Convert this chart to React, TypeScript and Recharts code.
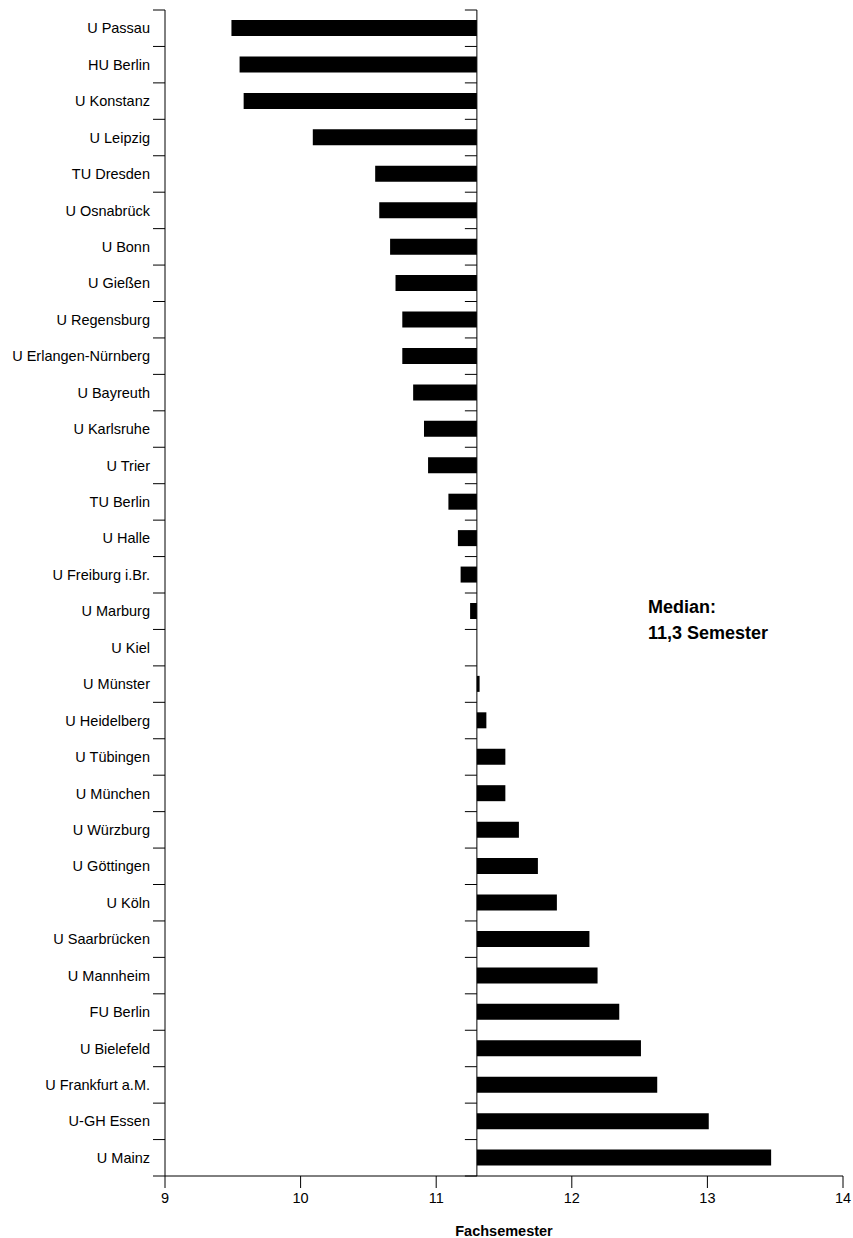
import React from "react"
import {
  BarChart,
  Bar,
  XAxis,
  YAxis,
  ReferenceLine,
} from "recharts"

// Universities, top to bottom
const UNIVERSITIES = [
  "U Passau",
  "HU Berlin",
  "U Konstanz",
  "U Leipzig",
  "TU Dresden",
  "U Osnabrück",
  "U Bonn",
  "U Gießen",
  "U Regensburg",
  "U Erlangen-Nürnberg",
  "U Bayreuth",
  "U Karlsruhe",
  "U Trier",
  "TU Berlin",
  "U Halle",
  "U Freiburg i.Br.",
  "U Marburg",
  "U Kiel",
  "U Münster",
  "U Heidelberg",
  "U Tübingen",
  "U München",
  "U Würzburg",
  "U Göttingen",
  "U Köln",
  "U Saarbrücken",
  "U Mannheim",
  "FU Berlin",
  "U Bielefeld",
  "U Frankfurt a.M.",
  "U-GH Essen",
  "U Mainz",
]

// Fachsemester per university
const SEMESTERS = [
  9.49, 9.55, 9.58, 10.09, 10.55, 10.58, 10.66, 10.7, 10.75, 10.75, 10.83,
  10.91, 10.94, 11.09, 11.16, 11.18, 11.25, 11.3, 11.32, 11.37, 11.51, 11.51,
  11.61, 11.75, 11.89, 12.13, 12.19, 12.35, 12.51, 12.63, 13.01, 13.47,
]

const X_TICKS = [9, 10, 11, 12, 13, 14]
const MEDIAN = 11.3
const MEDIAN_LABEL = ["Median:", "11,3 Semester"]
const AXIS_TITLE = "Fachsemester"

const FONT = "'Liberation Sans', Arial, Helvetica, sans-serif"

const data = UNIVERSITIES.map((name, i) => {
  const v = SEMESTERS[i]
  return { name, value: v, range: [Math.min(MEDIAN, v), Math.max(MEDIAN, v)] }
})

// vertical line with small ticks on the row boundaries
function BoundaryLine(props: any) {
  const { x1, y1, y2 } = props
  const top = Math.min(y1, y2)
  const bottom = Math.max(y1, y2)
  const step = (bottom - top) / UNIVERSITIES.length
  const ticks = []
  for (let i = 0; i <= UNIVERSITIES.length; i++) {
    const y = top + i * step
    ticks.push(<line key={i} x1={x1 - 12} x2={x1} y1={y} y2={y} stroke="#000" strokeWidth={1} />)
  }
  return (
    <g>
      <line x1={x1} x2={x1} y1={top} y2={bottom} stroke="#000" strokeWidth={1} />
      {ticks}
    </g>
  )
}

export default function App() {
  return (
    <div
      style={{
        position: "absolute",
        left: 0,
        top: 0,
        width: 853,
        height: 1238,
        fontFamily: FONT,
        background: "#fff",
      }}
    >
      <BarChart
        width={853}
        height={1238}
        data={data}
        layout="vertical"
        margin={{ top: 10, right: 10, left: 0, bottom: 0 }}
      >
        <XAxis
          type="number"
          domain={[9, 14]}
          ticks={X_TICKS}
          allowDataOverflow
          height={62}
          tickSize={12}
          tickMargin={5}
          axisLine={{ stroke: "#000" }}
          tickLine={{ stroke: "#000" }}
          tick={{ fill: "#000", fontSize: 14.5, fontFamily: FONT }}
          label={{
            value: AXIS_TITLE,
            position: "insideBottom",
            offset: 2,
            fill: "#000",
            fontSize: 14.5,
            fontWeight: "bold",
            fontFamily: FONT,
          }}
        />
        <YAxis
          type="category"
          dataKey="name"
          width={165}
          interval={0}
          axisLine={false}
          tickLine={false}
          tickSize={12}
          tickMargin={3}
          tick={{ fill: "#000", fontSize: 14.5, fontFamily: FONT }}
        />
        <Bar dataKey="range" fill="#000" barSize={16} isAnimationActive={false} />
        <ReferenceLine x={9} shape={BoundaryLine} />
        <ReferenceLine x={MEDIAN} shape={BoundaryLine} />
      </BarChart>
      <div
        style={{
          position: "absolute",
          left: 648,
          top: 594,
          fontSize: 18,
          lineHeight: "26px",
          fontWeight: "bold",
          color: "#000",
          whiteSpace: "nowrap",
        }}
      >
        {MEDIAN_LABEL.map((t) => (
          <div key={t}>{t}</div>
        ))}
      </div>
    </div>
  )
}
